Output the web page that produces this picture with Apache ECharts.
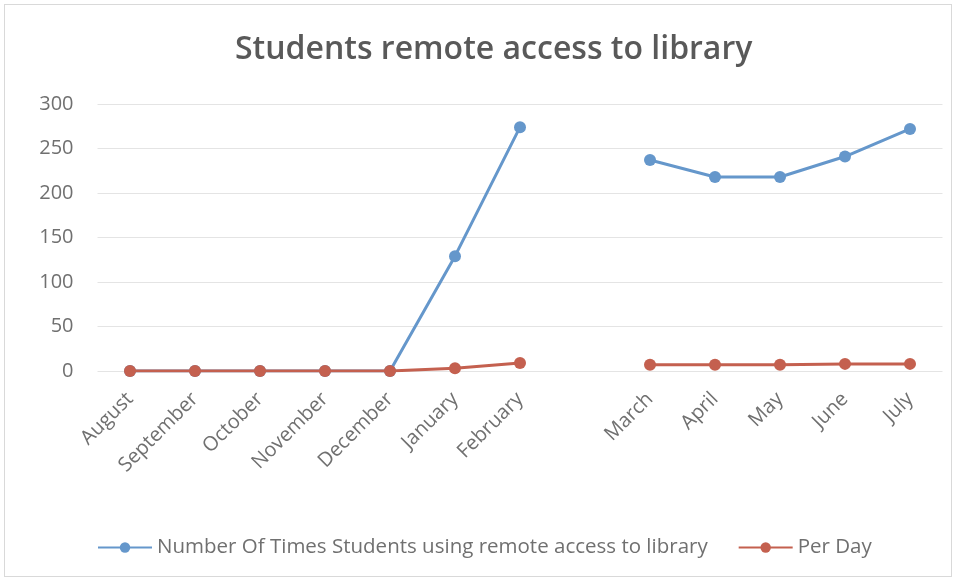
<!DOCTYPE html>
<html>
<head>
<meta charset="utf-8">
<script src="https://cdn.jsdelivr.net/npm/echarts@6/dist/echarts.min.js"></script>
<style>
html,body{margin:0;padding:0;background:#fff;}
#frame{position:absolute;left:4px;top:4px;width:948px;height:573px;border:1px solid #d9d9d9;box-sizing:border-box;}
#chart{position:absolute;left:0;top:0;width:958px;height:583px;}
</style>
</head>
<body>
<div id="frame"></div>
<div id="chart"></div>
<script>
var titleText = 'Students remote access to library';
var categories = ['August','September','October','November','December','January','February','','March','April','May','June','July'];
var seriesNames = ['Number Of Times Students using remote access to library','Per Day'];
var remoteAccess = [0, 0, 0, 0, 0, 129, 274, null, 237, 218, 218, 241, 272];
var perDay = [0, 0, 0, 0, 0, 3, 9, null, 7, 7, 7, 8, 8];
var yTicks = {min: 0, max: 300, interval: 50};

var chart = echarts.init(document.getElementById('chart'));
var fontFam = '"Open Sans", "Noto Sans", sans-serif';
var labelColor = '#707070';
chart.setOption({
  animation: false,
  title: {
    text: titleText,
    left: 230,
    top: 29,
    textStyle: {fontFamily: fontFam, fontSize: 32, fontWeight: 600, color: '#595959'}
  },
  legend: {
    bottom: 20,
    left: 92,
    itemWidth: 54,
    itemHeight: 13,
    itemGap: 30,
    textStyle: {fontFamily: fontFam, fontSize: 20.5, color: labelColor},
    data: seriesNames
  },
  grid: {left: 97.5, right: 15.5, top: 104, bottom: 212},
  xAxis: {
    type: 'category',
    data: categories,
    boundaryGap: true,
    axisLine: {show: false},
    axisTick: {show: false},
    axisLabel: {rotate: 45, margin: 25, interval: 0, fontFamily: fontFam, fontSize: 20, color: labelColor},
    splitLine: {show: false}
  },
  yAxis: {
    type: 'value',
    min: yTicks.min, max: yTicks.max, interval: yTicks.interval,
    axisLine: {show: false},
    axisTick: {show: false},
    axisLabel: {margin: 24, fontFamily: fontFam, fontSize: 20, color: labelColor},
    splitLine: {lineStyle: {color: '#e4e4e4', width: 1}}
  },
  series: [
    {
      name: seriesNames[0],
      type: 'line',
      data: remoteAccess,
      connectNulls: false,
      symbol: 'circle',
      symbolSize: 12,
      z: 2,
      itemStyle: {color: '#6597cb'},
      lineStyle: {color: '#6597cb', width: 3}
    },
    {
      name: seriesNames[1],
      type: 'line',
      data: perDay,
      connectNulls: false,
      symbol: 'circle',
      symbolSize: 12,
      z: 3,
      itemStyle: {color: '#c4604f'},
      lineStyle: {color: '#c4604f', width: 3}
    }
  ]
});
</script>
</body>
</html>
